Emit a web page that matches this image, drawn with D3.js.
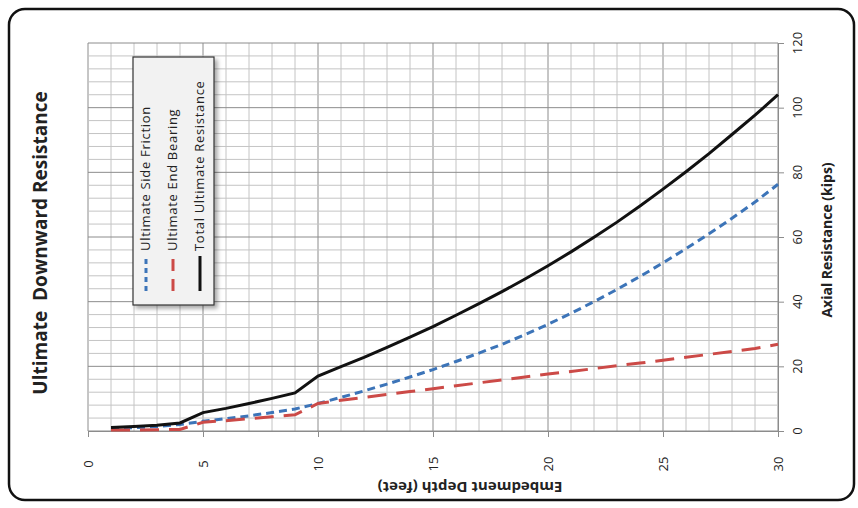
<!DOCTYPE html>
<html>
<head>
<meta charset="utf-8">
<script src="https://cdn.jsdelivr.net/npm/d3@7"></script>
<style>
body{margin:0;background:#fff;}
text{font-family:"Open Sans","Liberation Sans",sans-serif;}
</style>
</head>
<body>
<script>
var w=858,h=508;
var depths=[1,2,3,4,5,6,7,8,9,10,11,12,13,14,15,16,17,18,19,20,21,22,23,24,25,26,27,28,29,30];
var sideFriction=[0.8,1.0,1.4,2.0,3.0,3.8,4.7,5.7,6.8,8.5,10.4,12.4,14.5,16.7,19.0,21.5,24.1,26.8,29.8,33.0,36.4,40.0,43.8,47.8,52.0,56.4,61.0,65.8,70.8,76.3];
var endBearing=[0.3,0.3,0.4,0.5,2.7,3.2,3.8,4.4,5.0,8.5,9.5,10.4,11.3,12.2,13.1,14.0,14.9,15.8,16.7,17.6,18.4,19.3,20.2,21.0,21.9,22.8,23.7,24.6,25.5,26.8];
var totalRes=[1.1,1.4,1.8,2.5,5.7,7.0,8.5,10.1,11.8,17.0,19.9,22.8,25.9,29.0,32.3,35.8,39.4,43.1,47.0,51.1,55.4,59.9,64.6,69.6,74.8,80.2,85.8,91.7,97.7,104.0];
var xTicks=[0,5,10,15,20,25,30];
var yTicks=[0,20,40,60,80,100,120];
var seriesNames=['Ultimate Side Friction','Ultimate End Bearing','Total Ultimate Resistance'];

var svg=d3.select('body').append('svg').attr('width',w).attr('height',h);

// outer frame
svg.append('rect').attr('x',9).attr('y',9).attr('width',845).attr('height',491)
  .attr('rx',16).attr('ry',16).attr('fill','#fff').attr('stroke','#111').attr('stroke-width',2.5);

var pLeft=88,pRight=778,pTop=43,pBottom=431;
var x=d3.scaleLinear().domain([0,30]).range([pLeft,pRight]);
var y=d3.scaleLinear().domain([0,120]).range([pBottom,pTop]);

// grid
svg.append('g').selectAll('line').data(d3.range(0,31,1)).enter().append('line')
  .attr('x1',function(d){return x(d);}).attr('x2',function(d){return x(d);})
  .attr('y1',pTop).attr('y2',pBottom)
  .attr('stroke',function(d){return d%5==0?'#8c8c8c':'#c4c4c4';}).attr('stroke-width',1);
svg.append('g').selectAll('line').data(d3.range(0,121,4)).enter().append('line')
  .attr('y1',function(d){return y(d);}).attr('y2',function(d){return y(d);})
  .attr('x1',pLeft).attr('x2',pRight)
  .attr('stroke',function(d){return d%20==0?'#8c8c8c':'#c4c4c4';}).attr('stroke-width',1);

// axes
svg.append('g').attr('transform','translate(0,'+pBottom+')')
  .call(d3.axisBottom(x).tickValues(xTicks).tickSize(6).tickSizeOuter(0).tickFormat(''));
svg.append('g').attr('transform','translate('+pRight+',0)')
  .call(d3.axisRight(y).tickValues(yTicks).tickSize(6).tickSizeOuter(0).tickFormat(''));
svg.selectAll('.domain').attr('stroke','#8c8c8c');
svg.selectAll('.tick line').attr('stroke','#8c8c8c');

// tick labels (rotated)
svg.append('g').selectAll('text').data(xTicks).enter().append('text')
  .attr('transform',function(d){return 'translate('+(x(d)+5)+',464) rotate(-90)';})
  .attr('text-anchor','middle').attr('font-size',13).attr('fill','#222')
  .text(function(d){return d;});
svg.append('g').selectAll('text').data(yTicks).enter().append('text')
  .attr('transform',function(d){return 'translate(802,'+y(d)+') rotate(-90)';})
  .attr('text-anchor','middle').attr('font-size',13).attr('fill','#222')
  .text(function(d){return d;});

// titles
svg.append('text').attr('transform','translate(47,243) rotate(-90)')
  .attr('text-anchor','middle').attr('font-size',19).attr('font-weight','bold').attr('fill','#222')
  .attr('xml:space','preserve').text('Ultimate  Downward Resistance');
svg.append('text').attr('transform','translate(832,240) rotate(-90)')
  .attr('text-anchor','middle').attr('font-size',14).attr('font-weight','bold').attr('fill','#222')
  .text('Axial Resistance (kips)');
svg.append('text').attr('transform','translate(470,482) rotate(180)')
  .attr('text-anchor','middle').attr('font-size',15).attr('font-weight','bold').attr('fill','#222')
  .text('Embedment Depth (feet)');

// series
var styles=[
  {data:sideFriction,color:'#3c74b8',dash:'8,5'},
  {data:endBearing,color:'#cc4a47',dash:'19,10'},
  {data:totalRes,color:'#111',dash:null}
];
var line=d3.line().x(function(d){return x(d[0]);}).y(function(d){return y(d[1]);});
styles.forEach(function(s){
  svg.append('path').datum(depths.map(function(d,i){return [d,s.data[i]];}))
    .attr('d',line).attr('fill','none').attr('stroke',s.color).attr('stroke-width',3)
    .attr('stroke-dasharray',s.dash);
});

// legend
var defs=svg.append('defs');
var f=defs.append('filter').attr('id','sh').attr('x','-20%').attr('y','-20%').attr('width','150%').attr('height','150%');
f.append('feDropShadow').attr('dx',3).attr('dy',3).attr('stdDeviation',2).attr('flood-color','#000').attr('flood-opacity',0.35);
svg.append('rect').attr('x',133).attr('y',57).attr('width',81).attr('height',248)
  .attr('fill','#f2f2f2').attr('stroke','#333').attr('stroke-width',1.2).attr('filter','url(#sh)');
var lx=[146,173,200];
var legendDash=['5,4','12,8',null];
styles.forEach(function(s,i){
  svg.append('line').attr('x1',lx[i]).attr('x2',lx[i]).attr('y1',291).attr('y2',256)
    .attr('stroke',s.color).attr('stroke-width',3).attr('stroke-dasharray',legendDash[i]);
  svg.append('text').attr('transform','translate('+(lx[i]+4)+',251) rotate(-90)')
    .attr('font-size',13).attr('letter-spacing',0.7).attr('fill','#222').text(seriesNames[i]);
});
</script>
</body>
</html>
